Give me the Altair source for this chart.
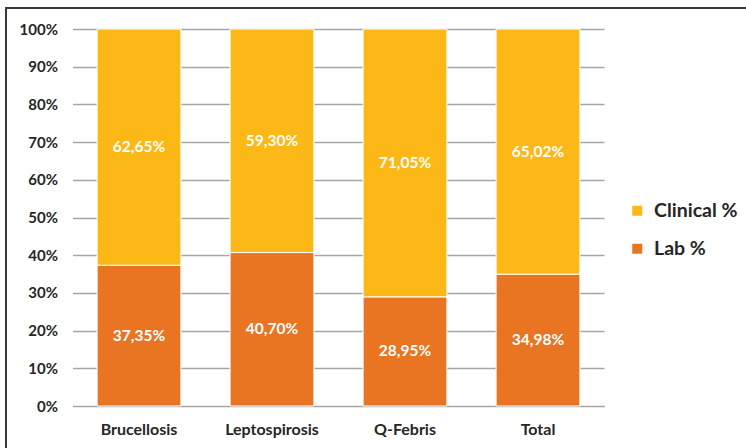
import altair as alt
import pandas as pd

# Share of cases confirmed by lab vs. diagnosed clinically, per disease
categories = ["Brucellosis", "Leptospirosis", "Q-Febris", "Total"]
lab_pct = [37.35, 40.70, 28.95, 34.98]
clinical_pct = [62.65, 59.30, 71.05, 65.02]
y_ticks = [0, 10, 20, 30, 40, 50, 60, 70, 80, 90, 100]

series_names = ["Clinical %", "Lab %"]
series_colors = ["#FBB817", "#E97422"]

rows = []
for cat, lab, cli in zip(categories, lab_pct, clinical_pct):
    rows.append({"category": cat, "series": "Lab %", "value": lab, "stack_order": 0})
    rows.append({"category": cat, "series": "Clinical %", "value": cli, "stack_order": 1})
df = pd.DataFrame(rows)

FONT = "Lato"
TEXT_COLOR = "#262626"
W, H = 532, 377

y_scale = alt.Scale(domain=[0, 100], nice=False)
y_axis = alt.Axis(
    values=y_ticks,
    labelExpr="datum.value + '%'",
    labelOverlap=False,
    labelFont=FONT,
    labelFontSize=15,
    labelFontWeight="bold",
    labelColor=TEXT_COLOR,
    labelPadding=15,
    ticks=False,
    domain=False,
    grid=True,
    gridColor="#A6A6A6",
    gridWidth=1.5,
)

base = alt.Chart(df).encode(
    x=alt.X(
        "category:N",
        sort=categories,
        title=None,
        scale=alt.Scale(paddingInner=0.37, paddingOuter=0.185),
        axis=alt.Axis(
            labelAngle=0,
            labelFont=FONT,
            labelFontSize=16,
            labelFontWeight="bold",
            labelColor=TEXT_COLOR,
            labelPadding=15,
            ticks=False,
            domain=False,
            grid=False,
        ),
    ),
)

bars = base.mark_bar(stroke="white", strokeWidth=1).encode(
    y=alt.Y("value:Q", stack="zero", title=None, scale=y_scale, axis=y_axis),
    color=alt.Color(
        "series:N",
        scale=alt.Scale(domain=series_names, range=series_colors),
        legend=alt.Legend(
            title=None,
            orient="none",
            legendX=555,
            legendY=172,
            symbolType="square",
            symbolSize=100,
            symbolStrokeWidth=0,
            labelFont=FONT,
            labelFontSize=19.5,
            labelFontWeight="bold",
            labelColor=TEXT_COLOR,
            labelOffset=7,
            rowPadding=17,
            padding=0,
        ),
    ),
    order=alt.Order("stack_order:Q", sort="ascending"),
)

labels = base.transform_stack(
    stack="value",
    groupby=["category"],
    as_=["y0", "y1"],
    sort=[alt.SortField("stack_order", order="ascending")],
).transform_calculate(
    mid="(datum.y0 + datum.y1) / 2",
    label="replace(format(datum.value, '.2f'), '.', ',') + '%'",
).mark_text(
    font=FONT, fontSize=15.5, fontWeight="bold", color="white"
).encode(
    y=alt.Y("mid:Q", title=None, scale=y_scale, axis=y_axis),
    text="label:N",
)

# outer frame edges (left and top) around the whole figure
one_row = pd.DataFrame({"k": [0]})
frame_left = alt.Chart(one_row).mark_rule(color="#3A3A3A", strokeWidth=2).encode(
    x=alt.value(-66.5), y=alt.value(-21), y2=alt.value(H + 100)
)
frame_top = alt.Chart(one_row).mark_rule(color="#3A3A3A", strokeWidth=2).encode(
    x=alt.value(-67.5), x2=alt.value(W + 200), y=alt.value(-21)
)
# keep the right edge of the plot area clean
right_edge = alt.Chart(one_row).mark_rule(color="white", strokeWidth=2).encode(
    x=alt.value(W + 1), y=alt.value(-2), y2=alt.value(H - 1)
)

chart = (
    alt.layer(bars, labels, frame_left, frame_top, right_edge)
    .properties(
        width=W,
        height=H,
        autosize=alt.AutoSizeParams(type="none"),
        padding={"left": 72.5, "top": 29, "right": 141.5, "bottom": 42},
        view=alt.ViewBackground(stroke="transparent", strokeWidth=0),
    )
    .configure_view(strokeWidth=0, strokeOpacity=0, stroke="transparent")
    .configure_axis(domain=False, ticks=False)
    .configure_axisX(grid=False)
    .configure(background="white")
)

chart.save("out.html", embed_options={"renderer": "svg", "actions": False})
